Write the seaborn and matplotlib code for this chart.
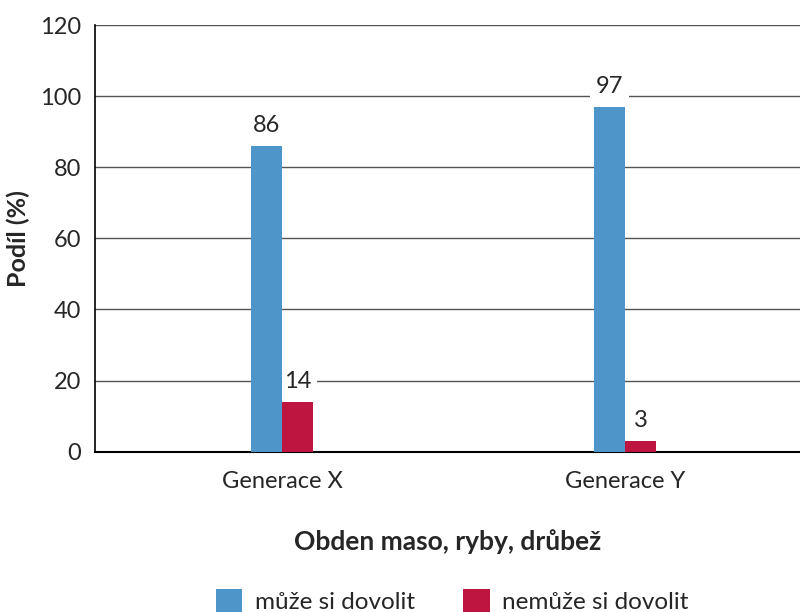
import pandas as pd
import matplotlib.pyplot as plt
import seaborn as sns

# data
categories = ['Generace X', 'Generace Y']
can_afford = [86, 97]
cannot_afford = [14, 3]
series_names = ['může si dovolit', 'nemůže si dovolit']

df = pd.DataFrame({
    'kategorie': categories * 2,
    'podil': can_afford + cannot_afford,
    'skupina': [series_names[0]] * 2 + [series_names[1]] * 2,
})

sns.set_style('white')
plt.rcParams['font.family'] = ['Lato', 'DejaVu Sans']

fig = plt.figure(figsize=(8, 6.12), dpi=100)
ax = fig.add_axes([0.119, 0.262, 0.881, 0.697])

sns.barplot(data=df, x='kategorie', y='podil', hue='skupina',
            palette=['#4E96CA', '#BE1540'], width=0.18, saturation=1,
            linewidth=0, ax=ax, zorder=3)

for cont in ax.containers:
    ax.bar_label(cont, padding=7, fontsize=17,
                 bbox=dict(facecolor='white', edgecolor='none', pad=4), zorder=2.9)

ax.set_ylim(0, 120)
ax.set_yticks(range(0, 121, 20))
ax.set_xlim(-0.545, 1.51)
ax.yaxis.grid(True, color='#555555', linewidth=1)
ax.set_axisbelow(True)
for s in ['top', 'right']:
    ax.spines[s].set_visible(False)
ax.spines['left'].set_color('black')
ax.spines['bottom'].set_color('black')
ax.spines['left'].set_linewidth(1.2)
ax.spines['bottom'].set_linewidth(1.5)
ax.tick_params(axis='y', labelsize=17, length=0, pad=10)
ax.tick_params(axis='x', labelsize=17, length=0, pad=14)

ax.set_ylabel('Podíl (%)', fontsize=18, fontweight='bold', labelpad=7)
ax.set_xlabel('Obden maso, ryby, drůbež', fontsize=19, fontweight='bold', labelpad=27)

handles, labels = ax.get_legend_handles_labels()
ax.get_legend().remove()
fig.legend(handles, labels, loc='lower center', bbox_to_anchor=(0.565, -0.038), ncol=2,
           frameon=False, fontsize=17.5, handlelength=1.1, handleheight=1.1,
           columnspacing=2.0, handletextpad=0.5)

fig.savefig('out.png', dpi=100)
